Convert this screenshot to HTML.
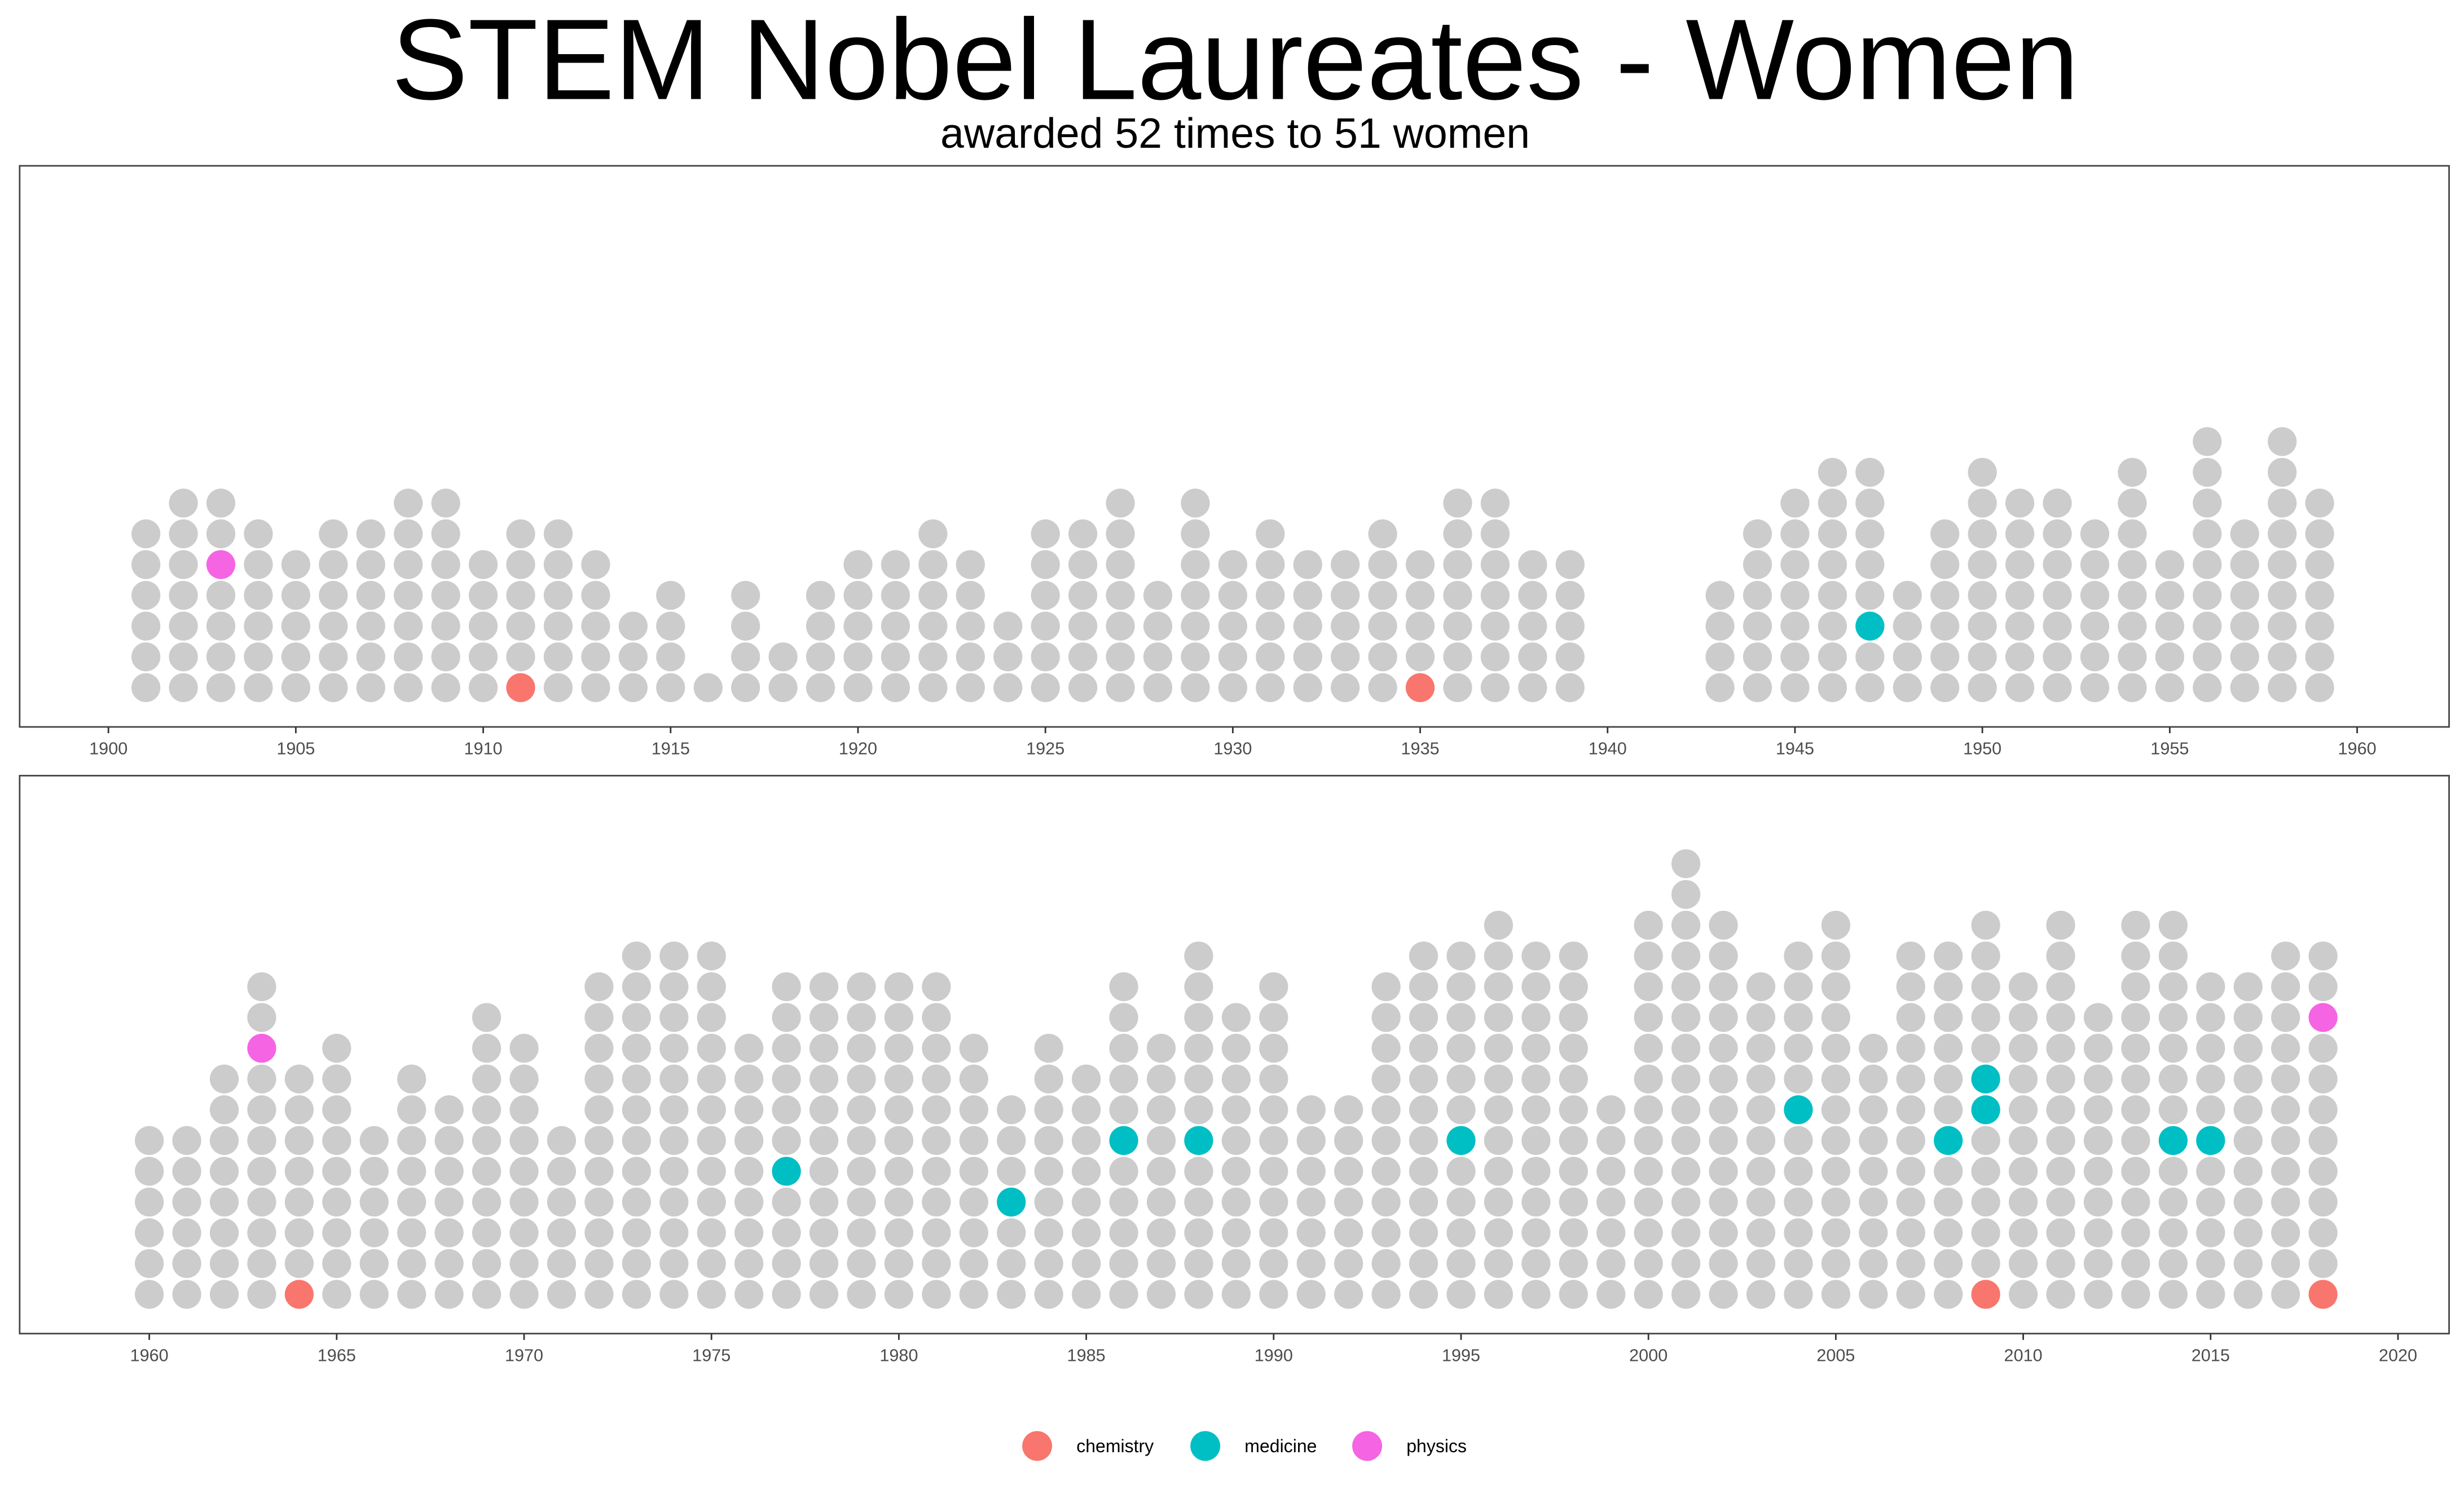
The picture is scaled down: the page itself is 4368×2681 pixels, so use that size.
<!DOCTYPE html>
<html><head><meta charset="utf-8"><style>
html,body{margin:0;padding:0;background:#fff}
svg{display:block}
text{font-family:"Liberation Sans",sans-serif}
</style></head><body>
<svg id="chart" width="4368" height="2681" viewBox="0 0 1568 962" preserveAspectRatio="none" xmlns="http://www.w3.org/2000/svg">
<text x="786" y="63" text-anchor="middle" font-size="73" fill="#000">STEM Nobel Laureates - Women</text>
<text x="786" y="94" text-anchor="middle" font-size="27" fill="#000">awarded 52 times to 51 women</text>
<rect x="12.5" y="105.5" width="1546" height="357" fill="none" stroke="#444" stroke-width="1"/>
<rect x="12.5" y="493.5" width="1546" height="355" fill="none" stroke="#444" stroke-width="1"/>
<g id="top"></g><g id="bottom"></g><g id="legend"></g>
</svg>
<script>
const topYears=[1901,1902,1903,1904,1905,1906,1907,1908,1909,1910,1911,1912,1913,1914,1915,1916,1917,1918,1919,1920,1921,1922,1923,1924,1925,1926,1927,1928,1929,1930,1931,1932,1933,1934,1935,1936,1937,1938,1939,1943,1944,1945,1946,1947,1948,1949,1950,1951,1952,1953,1954,1955,1956,1957,1958,1959];
const topCounts=[6,7,7,6,5,6,6,7,7,5,6,6,5,3,4,1,4,2,4,5,5,6,5,3,6,6,7,4,7,5,6,5,5,6,5,7,7,5,5,4,6,7,8,8,4,6,8,7,7,6,8,5,9,6,9,7];
const bottomYears=[];for(let y=1960;y<=2018;y++)bottomYears.push(y);
const bottomCounts=[6,6,8,11,8,9,6,8,7,10,9,6,11,12,12,12,9,11,11,11,11,11,9,7,9,8,11,9,12,10,11,7,7,11,12,12,13,12,12,7,13,15,13,11,12,13,9,12,12,13,11,13,10,13,13,11,11,12,12];
const womenYears=[1903,1911,1935,1947,1963,1964,1977,1983,1986,1988,1995,2004,2008,2009,2009,2009,2014,2015,2018,2018];
const womenRows=[5,1,1,3,9,1,5,4,6,6,6,7,6,1,7,8,6,6,1,10];
const womenFields=["physics","chemistry","chemistry","medicine","physics","chemistry","medicine","medicine","medicine","medicine","medicine","medicine","medicine","chemistry","medicine","medicine","medicine","medicine","chemistry","physics"];
const legendFields=["chemistry","medicine","physics"];
const colors={chemistry:"#F8766D",medicine:"#00BFC4",physics:"#F564E3"};
const NS="http://www.w3.org/2000/svg";
function mk(t,a,p){const e=document.createElementNS(NS,t);for(const k in a)e.setAttribute(k,a[k]);p.appendChild(e);return e;}
function panel(g,years,counts,x0,year0,base,tickStart,tickEnd,tickY,axisY){
  const xs=y=>x0+(y-year0)*23.85;
  const ys=r=>base-(r-1)*19.57;
  for(let t=tickStart;t<=tickEnd;t+=5){
    const l=mk('line',{x1:xs(t),x2:xs(t),y1:axisY,y2:axisY+4,stroke:'#333','stroke-width':1},g);
    
    
    const tx=mk('text',{x:xs(t),y:tickY,'text-anchor':'middle','font-size':11,fill:'#4d4d4d'},g);
    tx.textContent=t;
    
    
  }
  years.forEach((yr,i)=>{
    for(let r=1;r<=counts[i];r++){
      let fill='#CCCCCC';
      womenYears.forEach((wy,j)=>{if(wy===yr&&womenRows[j]===r)fill=colors[womenFields[j]];});
      const c=mk('circle',{cx:xs(yr),cy:ys(r),r:9.2,fill:fill},g);
      
      
    }
  });
}
panel(document.getElementById('top'),topYears,topCounts,69,1900,437.5,1900,1960,480,462.5);
panel(document.getElementById('bottom'),bottomYears,bottomCounts,95,1960,823.5,1960,2020,866,848.5);
const lg=document.getElementById('legend');
const lx=[660,767,870];
legendFields.forEach((f,i)=>{
  const c=mk('circle',{cx:lx[i],cy:920,r:9.5,fill:colors[f]},lg);
  
  
  const t=mk('text',{x:lx[i]+25,y:924,'font-size':11.5,fill:'#000'},lg);
  t.textContent=f;
  
  
});
</script>
</body></html>
